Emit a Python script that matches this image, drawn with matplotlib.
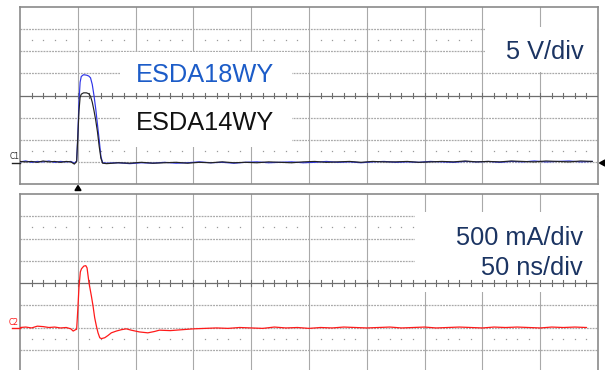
import matplotlib.pyplot as plt
from matplotlib.patches import Rectangle, Polygon
from matplotlib.lines import Line2D

# ---- data ----
# channel 1: clamping voltage (V), time in ns (trigger at 0)
t_pre = [-50, -45, -40, -35, -30, -25, -20, -15, -10, -6, -3]
blue_pre = [0.0, 0.2, -0.1, 0.1, 0.0, 0.2, -0.1, 0.1, 0.0, 0.1, -0.3]
black_pre = [0.1, 0.0, 0.1, -0.1, 0.2, 0.0, 0.1, -0.1, 0.1, 0.0, -0.5]

t_pulse = [-1.0, 0.0, 1.0, 2.0, 3.0, 5.0, 7.5, 9.5, 11.0, 12.5, 14.0, 15.5, 17.0, 18.5, 20.0, 21.5]
blue_pulse = [0.2, 6.0, 13.5, 18.0, 19.3, 19.7, 19.6, 19.4, 19.0, 17.5, 15.0, 12.0, 8.5, 5.0, 1.2, -0.2]
black_pulse = [0.1, 5.5, 11.5, 14.6, 15.3, 15.6, 15.6, 15.4, 14.8, 13.5, 11.6, 9.4, 6.8, 3.5, 0.8, -0.3]

t_post = list(range(25, 450, 10))
blue_post = [-0.3, -0.2, -0.4, -0.2, -0.3, -0.1, -0.3, -0.2, 0.0, -0.2,
             -0.1, -0.3, -0.1, 0.0, -0.2, -0.1, 0.0, -0.2, -0.1, 0.1,
             -0.1, 0.0, -0.2, 0.0, 0.1, -0.1, 0.0, -0.1, 0.1, 0.0,
             -0.1, 0.1, 0.0, 0.1, -0.1, 0.1, 0.0, 0.2, 0.0, 0.1,
             0.2, 0.0, 0.1]
black_post = [-0.4, -0.2, -0.3, -0.1, -0.3, -0.2, -0.1, -0.3, -0.1, -0.2,
              0.0, -0.2, -0.1, -0.2, 0.0, -0.1, -0.2, 0.0, 0.1, -0.1,
              0.0, 0.1, -0.1, 0.1, 0.0, 0.0, 0.1, -0.1, 0.0, 0.1,
              0.0, 0.2, 0.0, 0.1, 0.0, 0.2, 0.1, 0.0, 0.2, 0.1,
              0.0, 0.2, 0.1]

# channel 2: current (A)
t_red_pre = [-50, -45, -40, -35, -30, -25, -20, -15, -10, -6, -4, -2]
red_pre = [0.0, 0.01, -0.01, 0.03, 0.02, 0.0, 0.01, -0.01, 0.0, -0.03, -0.08, -0.05]
t_red_pulse = [-1, 0, 1, 2.2, 3.2, 5.2, 6.9, 8.0, 9.7, 11.8, 13.2, 14.6, 16.1, 17.5,
               19, 20.4, 23.3, 26.1, 29, 33.3, 37.6, 41.9, 46.2, 53.4, 60.6, 66.3,
               70.6, 80, 90, 100]
red_pulse = [-0.04, 0.4, 0.9, 1.25, 1.32, 1.38, 1.39, 1.34, 1.0, 0.70, 0.48, 0.22,
             0.03, -0.12, -0.23, -0.25, -0.23, -0.18, -0.12, -0.08, -0.05, -0.03,
             -0.06, -0.10, -0.12, -0.09, -0.06, -0.07, -0.05, -0.03]
t_red_post = list(range(110, 450, 10))
red_post = [-0.02, -0.01, -0.02, 0.0, -0.01, -0.02, 0.01, -0.01, 0.0, -0.02,
            0.0, -0.01, 0.01, 0.0, -0.01, 0.0, 0.01, -0.01, 0.0, 0.01,
            -0.01, 0.0, 0.01, 0.0, -0.01, 0.01, 0.0, 0.01, 0.0, -0.01,
            0.01, 0.0, 0.01, 0.0]

labels_top = ["ESDA18WY", "ESDA14WY"]
scale_top = "5 V/div"
scale_bottom = ["500 mA/div", "50 ns/div"]

W, H = 605, 370
fig = plt.figure(figsize=(W / 100, H / 100), dpi=100)
fig.patch.set_facecolor("white")

GRID = "#a9a9a9"
FRAME = "#8a8a8a"
NAVY = "#1b3462"


def fig_xy(x, y):
    return x / W, 1 - y / H


def panel(box, xlim, ylim):
    left, top, right, bottom = box
    ax = fig.add_axes([left / W, 1 - bottom / H, (right - left) / W, (bottom - top) / H])
    ax.set_xlim(*xlim)
    ax.set_ylim(*ylim)
    ax.set_xticks([])
    ax.set_yticks([])
    for s in ax.spines.values():
        s.set_color(FRAME)
        s.set_linewidth(1.2)
    x0, x1 = xlim
    y0, y1 = ylim
    dx = (x1 - x0) / 10
    dy = (y1 - y0) / 8
    for i in range(1, 10):
        ax.axvline(x0 + i * dx, color=GRID, lw=0.8, zorder=1)
    for j in range(1, 8):
        if j == 4:
            continue
        ax.axhline(y0 + j * dy, color=GRID, lw=0.9, ls=(0, (1.5, 0.8)), zorder=1)
    # minor dots
    yc = y0 + 4 * dy
    for k in range(1, 50):
        if k % 5 == 0:
            continue
        xx = x0 + k * dx / 5
        for yy in (yc + 2.5 * dy, yc - 2.5 * dy):
            ax.plot(xx, yy, marker="s", ms=0.9, color="#9a9a9a", mew=0, zorder=1)
    # centre line with ticks
    ax.axhline(yc, color="#6e6e6e", lw=0.9, zorder=3)
    for k in range(1, 50):
        xx = x0 + k * dx / 5
        ax.plot([xx, xx], [yc - dy * 0.12, yc + dy * 0.12], color="#6e6e6e", lw=0.8, zorder=3)
    return ax


def white_box(ax, box, pbox):
    left, top, right, bottom = box
    pl, pt, pr, pb = pbox
    fx = (pl - left) / (right - left)
    fy = (bottom - pb) / (bottom - top)
    w = (pr - pl) / (right - left)
    h = (pb - pt) / (bottom - top)
    ax.add_patch(Rectangle((fx, fy), w, h, transform=ax.transAxes,
                           facecolor="white", edgecolor="none", zorder=2))


def ax_text(ax, box, x, y, s, **kw):
    left, top, right, bottom = box
    ax.text((x - left) / (right - left), (bottom - y) / (bottom - top), s,
            transform=ax.transAxes, family=["Liberation Sans", "DejaVu Sans"],
            fontsize=18.3, va="baseline", zorder=5, **kw)


# ---- top panel: voltage ----
box1 = (20, 7, 598, 184)
ax1 = panel(box1, (-50, 450), (-5, 35))
white_box(ax1, box1, (120, 52, 292, 93))
white_box(ax1, box1, (120, 99, 292, 147))
white_box(ax1, box1, (485, 27, 597, 72))
ax1.plot(t_pre + t_pulse + t_post, blue_pre + blue_pulse + blue_post,
         color="#2f35e8", lw=0.85, zorder=4)
ax1.plot(t_pre + t_pulse + t_post, black_pre + black_pulse + black_post,
         color="#222222", lw=0.85, zorder=4)
ax_text(ax1, box1, 136, 82, labels_top[0], color="#1c5cc8")
ax_text(ax1, box1, 136, 130, labels_top[1], color="#111111")
ax_text(ax1, box1, 584, 59, scale_top, color=NAVY, ha="right")

# ---- bottom panel: current ----
box2 = (20, 194, 598, 372)
ax2 = panel(box2, (-50, 450), (-1.0, 3.0))
white_box(ax2, box2, (415, 212, 597, 292))
ax2.plot(t_red_pre + t_red_pulse + t_red_post, red_pre + red_pulse + red_post,
         color="#ff1a1a", lw=0.9, zorder=4)
ax_text(ax2, box2, 583, 245, scale_bottom[0], color=NAVY, ha="right")
ax_text(ax2, box2, 583, 275, scale_bottom[1], color=NAVY, ha="right")

# ---- channel markers ----
fig.text(*fig_xy(10, 159), "C1", fontsize=5.5, color="#333333", family="DejaVu Sans")
fig.add_artist(Line2D([12 / W, 20 / W], [1 - 163 / H] * 2, color="#222222", lw=1.0))
fig.text(*fig_xy(9, 325), "C2", fontsize=5.5, color="#ff1a1a", family="DejaVu Sans")
fig.add_artist(Line2D([12 / W, 20 / W], [1 - 328 / H] * 2, color="#ff1a1a", lw=1.0))
fig.add_artist(Polygon([fig_xy(75, 190.5), fig_xy(81, 190.5), fig_xy(78, 185.5)],
                       closed=True, color="black", transform=fig.transFigure))
fig.add_artist(Polygon([fig_xy(599.5, 163), fig_xy(605, 160), fig_xy(605, 166)],
                       closed=True, color="black", transform=fig.transFigure))

fig.savefig("out.png", dpi=100, facecolor="white")
